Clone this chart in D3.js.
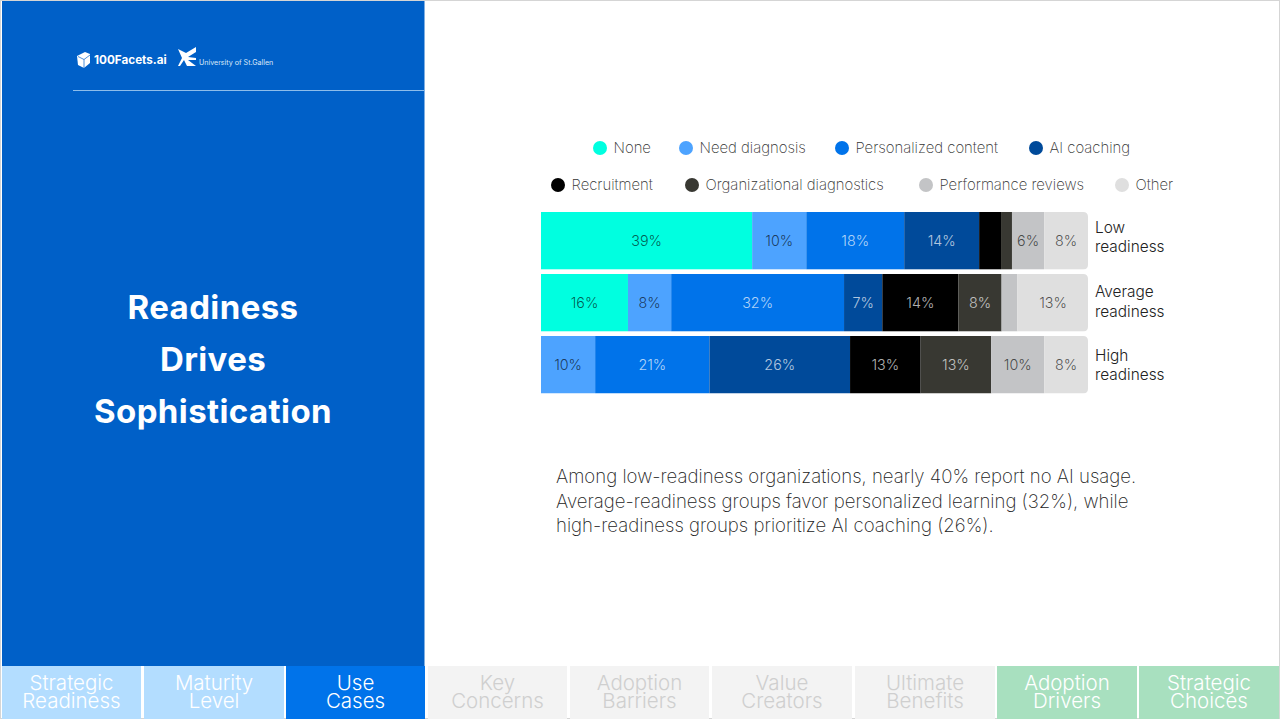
<!DOCTYPE html>
<html>
<head>
<meta charset="utf-8">
<title>Readiness Drives Sophistication</title>
<script src="https://cdn.jsdelivr.net/npm/d3@7"></script>
<style>
    html, body { margin: 0; padding: 0; background: #fff; overflow: hidden; }
    #chart-area { width: 1280px; height: 719px; }
    text { font-family: "Inter", "Lato", sans-serif; }
</style>
</head>
<body>
<div id="chart-area"></div>
<script>

let categories = ["None", "Need diagnosis", "Personalized content", "AI coaching",
    "Recruitment", "Organizational diagnostics", "Performance reviews", "Other"];

let colors = ["#00FFE0", "#4DA3FF", "#0073EA", "#004A9A", "#000000", "#383832", "#C3C4C6", "#DFDFDF"];

// labels are only printed on the segments big enough to hold them
let readiness = [
    {group: ["Low", "readiness"], labelDy: 20.5, "None": 38.6, "Need diagnosis": 9.9, "Personalized content": 17.9, "AI coaching": 13.7,
        "Recruitment": 4.0, "Organizational diagnostics": 2.0, "Performance reviews": 5.9, "Other": 8.0},
    {group: ["Average", "readiness"], labelDy: 23.5, "None": 15.9, "Need diagnosis": 7.9, "Personalized content": 31.6, "AI coaching": 7.0,
        "Recruitment": 13.9, "Organizational diagnostics": 7.9, "Performance reviews": 2.9, "Other": 13.0},
    {group: ["High", "readiness"], labelDy: 25, "None": 0, "Need diagnosis": 9.9, "Personalized content": 20.9, "AI coaching": 25.7,
        "Recruitment": 12.9, "Organizational diagnostics": 12.9, "Performance reviews": 9.7, "Other": 8.0}
];

let hiddenLabels = ["Low|Recruitment", "Low|Organizational diagnostics", "Average|Performance reviews", "High|None"];

let legendItems = [
    {name: "None", row: 0, x: 600}, {name: "Need diagnosis", row: 0, x: 686},
    {name: "Personalized content", row: 0, x: 842}, {name: "AI coaching", row: 0, x: 1036},
    {name: "Recruitment", row: 1, x: 558}, {name: "Organizational diagnostics", row: 1, x: 692},
    {name: "Performance reviews", row: 1, x: 926}, {name: "Other", row: 1, x: 1122}
];

let tabs = [
    {label: ["Strategic", "Readiness"], x0: 2, x1: 141, fill: "#B3DDFF", text: "#fff"},
    {label: ["Maturity", "Level"], x0: 144, x1: 284, fill: "#B3DDFF", text: "#fff"},
    {label: ["Use", "Cases"], x0: 286, x1: 425, fill: "#0073EA", text: "#fff"},
    {label: ["Key", "Concerns"], x0: 428, x1: 567, fill: "#F3F3F3", text: "#CFCFCF"},
    {label: ["Adoption", "Barriers"], x0: 570, x1: 709, fill: "#F3F3F3", text: "#CFCFCF"},
    {label: ["Value", "Creators"], x0: 712, x1: 852, fill: "#F3F3F3", text: "#CFCFCF"},
    {label: ["Ultimate", "Benefits"], x0: 855, x1: 995, fill: "#F3F3F3", text: "#CFCFCF"},
    {label: ["Adoption", "Drivers"], x0: 997, x1: 1137, fill: "#A8E0BF", text: "#fff"},
    {label: ["Strategic", "Choices"], x0: 1139, x1: 1279, fill: "#A8E0BF", text: "#fff"}
];

class ReadinessVis {
    constructor(parentElement, data) {
        this.displayData = data;
        this.parentElement = parentElement;

        this.initVis();
    }

    initVis() {
        let vis = this;

        vis.svg = d3.select("#" + vis.parentElement)
            .append("svg")
            .attr("width", 1280)
            .attr("height", 719);

        vis.x = d3.scaleLinear()
            .domain([0, 100])
            .range([541, 1088]);

        vis.y = d3.scaleBand()
            .domain(vis.displayData.map(d => d.group[0]))
            .range([212, 393.5])
            .paddingInner(0.07)
            .paddingOuter(0);

        vis.color = d3.scaleOrdinal()
            .domain(categories)
            .range(colors);

        vis.drawFrame();
        vis.drawLegend();

        vis.wrangleData();
    }

    drawFrame() {
        let vis = this;

        // slide border
        vis.svg.append("rect")
            .attr("x", 0.5).attr("y", 0.5)
            .attr("width", 1279).attr("height", 718)
            .attr("fill", "none")
            .attr("stroke", "#D5D5D5");

        vis.svg.append("rect")
            .attr("x", 2).attr("y", 1)
            .attr("width", 422.5).attr("height", 665)
            .attr("fill", "#0060C8");

        vis.svg.append("line")
            .attr("x1", 73).attr("x2", 424)
            .attr("y1", 90.5).attr("y2", 90.5)
            .attr("stroke", "#8DBDEB");

        // logos
        vis.svg.append("path")
            .attr("d", "M77 56 L85 52 L90 54 L90 63 L84 68 L78 65 Z")
            .attr("fill", "#fff");
        vis.svg.append("path")
            .attr("d", "M78 56.5 L84 59.5 L90 55 M84 59.5 L84 68")
            .attr("fill", "none")
            .attr("stroke", "#0060C8")
            .attr("stroke-width", 0.7);
        vis.svg.append("text")
            .attr("x", 94).attr("y", 64)
            .attr("font-size", 11.7).attr("font-weight", 700)
            .attr("fill", "#fff")
            .text("100Facets.ai");

        vis.svg.append("path")
            .attr("d", "M178 49 L186 53 L196 47 L196 52 L188 57 L196 58 L196 60 L188 60 L196 66 L187 66 L184 60 L180 66 L178 66 L182 58 Z")
            .attr("fill", "#fff");
        vis.svg.append("text")
            .attr("x", 199).attr("y", 65)
            .attr("font-size", 7.1).attr("font-weight", 400)
            .attr("fill", "#DCE9F8")
            .text("University of St.Gallen");

        vis.svg.selectAll(".title")
            .data(["Readiness", "Drives", "Sophistication"])
            .enter().append("text")
            .attr("class", "title")
            .attr("x", 213)
            .attr("y", (d, i) => 319 + i * 52)
            .attr("text-anchor", "middle")
            .attr("font-size", 33)
            .attr("letter-spacing", 0.4)
            .attr("font-weight", 700)
            .attr("fill", "#fff")
            .text(d => d);

        vis.svg.selectAll(".takeaway")
            .data([
                "Among low-readiness organizations, nearly 40% report no AI usage.",
                "Average-readiness groups favor personalized learning (32%), while",
                "high-readiness groups prioritize AI coaching (26%)."
            ])
            .enter().append("text")
            .attr("class", "takeaway")
            .attr("x", 556)
            .attr("y", (d, i) => 483 + i * 24.5)
            .attr("font-size", 18.6)
            .attr("font-weight", 200)
            .attr("fill", "#222")
            .text(d => d);

        let tab = vis.svg.selectAll(".tab")
            .data(tabs)
            .enter().append("g")
            .attr("class", "tab");

        tab.append("rect")
            .attr("x", d => d.x0)
            .attr("y", 666)
            .attr("width", d => d.x1 - d.x0)
            .attr("height", 53)
            .attr("fill", d => d.fill);

        tab.selectAll("text")
            .data(d => d.label.map(l => ({l: l, d: d})))
            .enter().append("text")
            .attr("x", d => (d.d.x0 + d.d.x1) / 2)
            .attr("y", (d, i) => 689.5 + i * 18.5)
            .attr("text-anchor", "middle")
            .attr("font-size", 20.5)
            .attr("font-weight", 300)
            .attr("fill", d => d.d.text)
            .text(d => d.l);
    }

    drawLegend() {
        let vis = this;

        let item = vis.svg.selectAll(".legend-item")
            .data(legendItems)
            .enter().append("g")
            .attr("class", "legend-item")
            .attr("transform", d => "translate(" + d.x + "," + (148 + d.row * 37) + ")");

        item.append("circle")
            .attr("r", 7)
            .attr("fill", d => vis.color(d.name));

        item.append("text")
            .attr("x", 13.5)
            .attr("y", 4.5)
            .attr("font-size", 14.9)
            .attr("font-weight", 200)
            .attr("fill", "#333")
            .text(d => d.name);
    }

    wrangleData() {
        let vis = this;

        vis.series = d3.stack().keys(categories)(vis.displayData);

        vis.updateVis();
    }

    updateVis() {
        let vis = this;

        // rounded right end on each bar
        let clips = vis.svg.append("defs").selectAll("clipPath")
            .data(vis.displayData)
            .enter().append("clipPath")
            .attr("id", d => "clip-" + d.group[0]);

        clips.append("path")
            .attr("d", d => {
                let x0 = vis.x(0), x1 = vis.x(100), y0 = vis.y(d.group[0]), h = vis.y.bandwidth(), r = 5;
                return "M" + x0 + "," + y0 + "H" + (x1 - r) + "Q" + x1 + "," + y0 + " " + x1 + "," + (y0 + r)
                    + "V" + (y0 + h - r) + "Q" + x1 + "," + (y0 + h) + " " + (x1 - r) + "," + (y0 + h) + "H" + x0 + "Z";
            });

        let layer = vis.svg.selectAll(".layer")
            .data(vis.series)
            .enter().append("g")
            .attr("class", "layer")
            .attr("fill", d => vis.color(d.key));

        layer.selectAll("rect")
            .data(d => d)
            .enter().append("rect")
            .attr("class", "bar")
            .attr("x", d => vis.x(d[0]))
            .attr("y", d => vis.y(d.data.group[0]))
            .attr("width", d => vis.x(d[1]) - vis.x(d[0]))
            .attr("height", vis.y.bandwidth())
            .attr("clip-path", d => "url(#clip-" + d.data.group[0] + ")");

        let light = ["None", "Need diagnosis", "Performance reviews", "Other"];

        layer.selectAll("text")
            .data(d => d.map(s => ({key: d.key, s: s})))
            .enter().append("text")
            .filter(d => !hiddenLabels.includes(d.s.data.group[0] + "|" + d.key))
            .attr("x", d => (vis.x(d.s[0]) + vis.x(d.s[1])) / 2)
            .attr("y", d => vis.y(d.s.data.group[0]) + vis.y.bandwidth() / 2 + 5.5)
            .attr("text-anchor", "middle")
            .attr("font-size", 14.3)
            .attr("font-weight", 300)
            .attr("fill", d => light.includes(d.key) ? "#000" : "#fff")
            .attr("fill-opacity", d => light.includes(d.key) ? 0.65 : 0.7)
            .text(d => Math.round(d.s[1] - d.s[0]) + "%");

        // row labels
        vis.svg.selectAll(".row-label")
            .data(vis.displayData)
            .enter().append("text")
            .attr("class", "row-label")
            .attr("x", 1095)
            .attr("y", d => vis.y(d.group[0]) + d.labelDy)
            .attr("font-size", 15.4)
            .attr("font-weight", 300)
            .attr("fill", "#222")
            .selectAll("tspan")
            .data(d => d.group)
            .enter().append("tspan")
            .attr("x", 1095)
            .attr("dy", (d, i) => i * 19.5)
            .text(d => d);
    }
}

new ReadinessVis("chart-area", readiness);

</script>
</body>
</html>
